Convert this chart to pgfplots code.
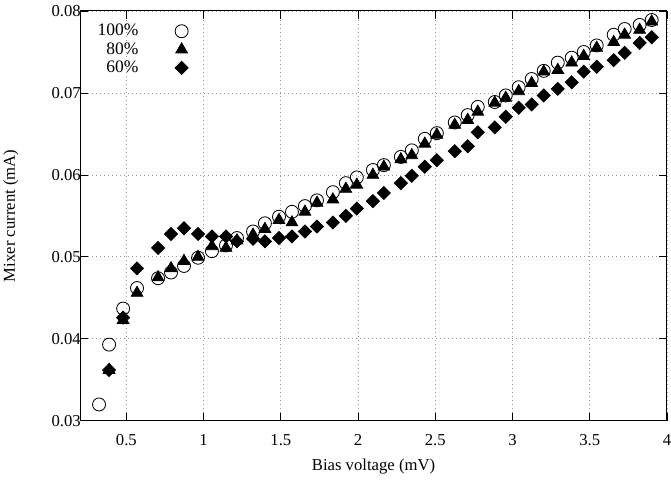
\documentclass[border=0pt]{standalone}
\usepackage{fontspec}
\setmainfont{Liberation Serif}
\usepackage{pgfplots}
\usepackage{pgfplotstable}
\pgfplotsset{compat=1.18}

% bias voltage (mV), mixer current (mA)
\pgfplotstableread{
x      y
0.323  0.0320
0.388  0.0393
0.479  0.0437
0.569  0.0462
0.705  0.0474
0.789  0.0481
0.873  0.0489
0.964  0.0499
1.054  0.0507
1.145  0.0514
1.216  0.0523
1.320  0.0531
1.397  0.0541
1.488  0.0549
1.572  0.0555
1.656  0.0562
1.734  0.0569
1.837  0.0579
1.921  0.0590
1.992  0.0597
2.096  0.0606
2.167  0.0612
2.277  0.0622
2.348  0.0630
2.432  0.0644
2.510  0.0651
2.626  0.0664
2.710  0.0673
2.775  0.0683
2.885  0.0689
2.956  0.0697
3.040  0.0707
3.124  0.0717
3.202  0.0727
3.293  0.0737
3.383  0.0743
3.461  0.0750
3.545  0.0758
3.655  0.0771
3.726  0.0778
3.823  0.0783
3.901  0.0789
}\pumphundred

\pgfplotstableread{
x      y
0.388  0.0362
0.479  0.0423
0.569  0.0456
0.705  0.0475
0.789  0.0486
0.873  0.0495
0.964  0.0500
1.054  0.0513
1.145  0.0511
1.216  0.0520
1.320  0.0527
1.397  0.0534
1.488  0.0545
1.572  0.0542
1.656  0.0555
1.734  0.0566
1.837  0.0570
1.921  0.0583
1.992  0.0588
2.096  0.0600
2.167  0.0610
2.277  0.0619
2.348  0.0624
2.432  0.0638
2.510  0.0649
2.626  0.0661
2.710  0.0667
2.775  0.0677
2.885  0.0688
2.956  0.0694
3.040  0.0702
3.124  0.0712
3.202  0.0726
3.293  0.0728
3.383  0.0737
3.461  0.0745
3.545  0.0755
3.655  0.0762
3.726  0.0771
3.823  0.0777
3.901  0.0787
}\pumpeighty

\pgfplotstableread{
x      y
0.388  0.0362
0.479  0.0426
0.569  0.0486
0.705  0.0511
0.789  0.0528
0.873  0.0535
0.964  0.0528
1.054  0.0525
1.145  0.0525
1.216  0.0519
1.320  0.0522
1.397  0.0519
1.488  0.0523
1.572  0.0525
1.656  0.0531
1.734  0.0537
1.837  0.0542
1.921  0.0550
1.992  0.0559
2.096  0.0568
2.167  0.0578
2.277  0.0590
2.348  0.0599
2.432  0.0610
2.510  0.0618
2.626  0.0629
2.710  0.0635
2.775  0.0652
2.885  0.0658
2.956  0.0671
3.040  0.0682
3.124  0.0686
3.202  0.0697
3.293  0.0705
3.383  0.0713
3.461  0.0726
3.545  0.0732
3.655  0.0740
3.726  0.0749
3.823  0.0761
3.901  0.0768
}\pumpsixty

\begin{document}
\begin{tikzpicture}
\begin{axis}[
    width=352pt, height=245.8pt,
    scale only axis,
    xmin=0.2, xmax=4,
    ymin=0.03, ymax=0.08,
    xtick={0.5,1,...,4},
    ytick={0.03,0.04,...,0.08},
    scaled y ticks=false,
    yticklabel style={/pgf/number format/fixed, /pgf/number format/precision=2,
        /pgf/number format/fixed zerofill, xshift=4pt},
    xticklabel style={yshift=-4.5pt},
    /pgf/number format/assume math mode=true,
    tick align=inside,
    major tick length=5pt,
    tick style={black, line width=0.5pt},
    axis line style={line width=0.6pt},
    grid=major,
    grid style={gray!80, dotted, line width=0.5pt},
    font=\fontsize{10}{12}\selectfont,
    xlabel={Bias voltage (mV)},
    ylabel={Mixer current (mA)},
    xlabel style={at={(axis description cs:0.5,-0.1123)}, anchor=center},
    ylabel style={at={(axis description cs:-0.118,0.5)}, anchor=center},
    legend plot pos=right,
    legend cell align=right,
    legend style={draw=none, fill=none, at={(0.015,0.985)}, anchor=north west,
        font=\fontsize{10.5}{11}\selectfont, row sep=-1.5pt,
        /tikz/every odd column/.append style={column sep=20pt}},
]
\addplot[only marks, mark=o, mark size=3.9pt, mark options={black, line width=0.5pt}] table {\pumphundred};
\addlegendentry{100\%}
\addplot[only marks, mark=triangle*, mark size=4.1pt, mark options={black, fill=black}] table {\pumpeighty};
\addlegendentry{80\%}
\addplot[only marks, mark=square*, mark size=2.8pt, mark options={black, fill=black, rotate=45}] table {\pumpsixty};
\addlegendentry{60\%}
\end{axis}
\pgfresetboundingbox
\path[use as bounding box] ([xshift=-48pt,yshift=-37.5pt]current axis.south west) rectangle ([xshift=2.4pt,yshift=6.6pt]current axis.north east);
\end{tikzpicture}
\end{document}
